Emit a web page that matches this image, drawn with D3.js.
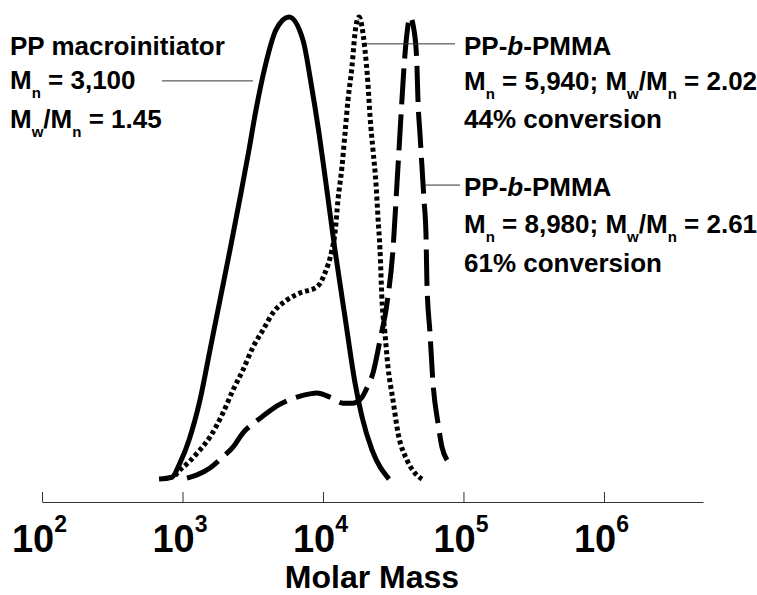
<!DOCTYPE html>
<html>
<head>
<meta charset="utf-8">
<script src="https://cdn.jsdelivr.net/npm/d3@7"></script>
<style>
  body { margin: 0; background: #fff; }
</style>
</head>
<body>
<script>
const WIDTH = 757;
const HEIGHT = 595;
const FONT = "'Liberation Sans', Arial, Helvetica, sans-serif";

// x axis ticks (log scale, molar mass)
const tickValues = [1e2, 1e3, 1e4, 1e5, 1e6];
const axisTitle = "Molar Mass";

// PP macroinitiator (solid)
const ppMass = [681, 842, 960, 1112, 1333, 1570, 1849, 2178, 2608, 2974, 3334, 3866, 4627, 5728,
  7208, 8222, 9370, 10500, 12170, 14350, 16900, 18970, 22330, 29510];
const ppSignal = [0.002, 0.006, 0.037, 0.086, 0.173, 0.281, 0.389, 0.497, 0.620, 0.713, 0.799, 0.892, 0.972, 1.0,
  0.950, 0.857, 0.749, 0.641, 0.497, 0.352, 0.210, 0.136, 0.065, 0.002];

// PP-b-PMMA, 44% conversion (dotted)
const pmma44Mass = [885, 929, 1095, 1289, 1570, 1942, 2287, 2697, 3175, 3741, 4406, 5545, 6860, 9060, 10330,
  11590, 12170, 12790, 13650, 14350, 15070, 16080, 16900, 18030, 19900, 20890, 21630, 22700, 23830,
  24620, 25460, 26300, 27610, 29030, 31480, 34200, 39630, 45160, 50680];
const pmma44Signal = [0.009, 0.017, 0.037, 0.060, 0.093, 0.145, 0.194, 0.238, 0.287, 0.324, 0.361, 0.389, 0.404, 0.417, 0.447,
  0.497, 0.533, 0.605, 0.676, 0.749, 0.821, 0.892, 0.965, 1.0, 0.929, 0.857, 0.784, 0.713, 0.641,
  0.568, 0.497, 0.389, 0.317, 0.244, 0.173, 0.102, 0.043, 0.015, 0.002];

// PP-b-PMMA, 61% conversion (dashed)
const pmma61Mass = [1077, 1268, 1570, 1910, 2287, 2697, 3281, 3741, 4709, 5545, 6531, 8072, 9060, 11220,
  13870, 16350, 18970, 20560, 22700, 25460, 28580, 31480, 33650, 35320, 36480, 37740, 39630, 41590,
  45160, 46670, 47430, 48990, 50680, 52360, 54080, 54950, 57800, 60670, 65870, 70310, 76380];
const pmma61Signal = [0.004, 0.011, 0.026, 0.048, 0.071, 0.102, 0.125, 0.138, 0.160, 0.171, 0.179, 0.186, 0.188, 0.179,
  0.166, 0.166, 0.179, 0.199, 0.231, 0.302, 0.382, 0.497, 0.641, 0.749, 0.821, 0.892, 0.965, 1.0,
  0.957, 0.892, 0.821, 0.749, 0.676, 0.605, 0.533, 0.425, 0.317, 0.210, 0.123, 0.071, 0.043];

const x = d3.scaleLog().domain([100, 5.07e6]).range([42, 703]);
const y = d3.scaleLinear().domain([0, 1]).range([480, 17]);
const AXIS_Y = 502;

const svg = d3.select("body")
  .append("svg")
  .attr("width", WIDTH)
  .attr("height", HEIGHT)
  .attr("viewBox", `0 0 ${WIDTH} ${HEIGHT}`);

svg.append("rect").attr("width", WIDTH).attr("height", HEIGHT).attr("fill", "#fff");

// curves
const line = d3.line()
  .x((d) => x(d[0]))
  .y((d) => y(d[1]))
  .curve(d3.curveMonotoneX);

const series = [
  { mass: ppMass, signal: ppSignal, dash: null, width: 5 },
  { mass: pmma44Mass, signal: pmma44Signal, dash: "4,3", width: 5 },
  { mass: pmma61Mass, signal: pmma61Signal, dash: "36,10", width: 5 },
];

series.forEach((s) => {
  svg.append("path")
    .datum(s.mass.map((m, i) => [m, s.signal[i]]))
    .attr("d", line)
    .attr("fill", "none")
    .attr("stroke", "#000")
    .attr("stroke-width", s.width)
    .attr("stroke-dasharray", s.dash)
    .attr("stroke-linejoin", "round");
});

// x axis
const axis = svg.append("g")
  .attr("transform", `translate(0,${AXIS_Y})`)
  .call(d3.axisBottom(x).tickValues(tickValues).tickSizeInner(-10).tickSizeOuter(0));
axis.selectAll(".domain, .tick line").attr("stroke", "#333").attr("stroke-width", 1);
axis.selectAll(".tick text")
  .attr("y", 50)
  .attr("dy", 0)
  .attr("x", -3)
  .attr("fill", "#000")
  .attr("font-family", FONT)
  .attr("font-weight", "bold")
  .attr("font-size", 38)
  .attr("text-anchor", "middle")
  .each(function (d) {
    const t = d3.select(this).text("10");
    t.append("tspan")
      .attr("dy", -20)
      .attr("font-size", 23)
      .text(Math.round(Math.log10(d)));
  });

svg.append("text")
  .attr("x", 372)
  .attr("y", 588)
  .attr("text-anchor", "middle")
  .attr("font-family", FONT)
  .attr("font-weight", "bold")
  .attr("font-size", 32)
  .text(axisTitle);

// annotation text with subscripts: parts = [text, style]
function richText(px, py, parts) {
  const t = svg.append("text")
    .attr("x", px)
    .attr("y", py)
    .attr("font-family", FONT)
    .attr("font-weight", "bold")
    .attr("font-size", 26)
    .attr("fill", "#000");
  let shifted = false;
  parts.forEach(([str, style]) => {
    const sp = t.append("tspan").text(str);
    if (style === "sub") {
      sp.attr("font-size", 15).attr("dy", shifted ? 0 : 9);
      shifted = true;
    } else {
      if (shifted) sp.attr("dy", -9);
      shifted = false;
      if (style === "it") sp.attr("font-style", "italic");
    }
  });
}

richText(10, 55, [["PP macroinitiator"]]);
richText(10, 89, [["M"], ["n", "sub"], [" = 3,100"]]);
richText(10, 128, [["M"], ["w", "sub"], ["/M"], ["n", "sub"], [" = 1.45"]]);

richText(464, 55, [["PP-"], ["b", "it"], ["-PMMA"]]);
richText(464, 90, [["M"], ["n", "sub"], [" = 5,940; M"], ["w", "sub"], ["/M"], ["n", "sub"], [" = 2.02"]]);
richText(464, 128, [["44% conversion"]]);

richText(464, 196, [["PP-"], ["b", "it"], ["-PMMA"]]);
richText(464, 233, [["M"], ["n", "sub"], [" = 8,980; M"], ["w", "sub"], ["/M"], ["n", "sub"], [" = 2.61"]]);
richText(464, 272, [["61% conversion"]]);

// leader lines from labels to curves
const leaders = [
  { x1: 162, x2: x(3177), y: y(0.862) },
  { x1: x(20560), x2: 455, y: y(0.942) },
  { x1: x(53200), x2: 460, y: y(0.637) },
];
leaders.forEach((l) => {
  svg.append("line")
    .attr("x1", l.x1).attr("x2", l.x2)
    .attr("y1", l.y).attr("y2", l.y)
    .attr("stroke", "#333")
    .attr("stroke-width", 1);
});
</script>
</body>
</html>
